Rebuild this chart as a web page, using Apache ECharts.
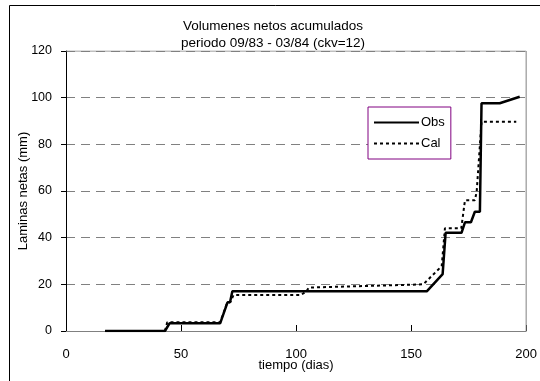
<!DOCTYPE html>
<html>
<head>
<meta charset="utf-8">
<script src="https://cdn.jsdelivr.net/npm/echarts@6/dist/echarts.min.js"></script>
<style>
  html, body { margin: 0; padding: 0; background: #fff; }
  #chart { width: 540px; height: 381px; }
</style>
</head>
<body>
<div id="chart"></div>
<script>
// observed accumulated volume (dias, mm)
const obsDias = [17, 43, 45, 67, 70.2, 71.3, 72.3, 156.8, 163.7, 165, 171.9, 173.4, 176, 177.7, 179.9, 180.6, 188.5, 197.2]
const obsMm = [0, 0, 3.3, 3.3, 12.3, 12.3, 17, 17, 24.4, 42.1, 42.1, 46.6, 46.6, 51.1, 51.1, 97.6, 97.6, 100.4]
// calculated
const calDias = [17, 43, 44, 67, 70, 71.5, 72.8, 102, 104.5, 105.5, 155.3, 163.3, 164.7, 171.8, 173.4, 177.7, 178.5, 180.6, 195.7]
const calMm = [0, 0, 3.7, 3.7, 12, 12.5, 15.4, 15.4, 17, 18.6, 20, 27.8, 44, 44, 56, 56, 59.7, 89.7, 89.7]
const xTicks = [0, 50, 100, 150, 200]
const yTicks = [0, 20, 40, 60, 80, 100, 120]

const font = 'Arial, "Liberation Sans", sans-serif'
const chart = echarts.init(document.getElementById('chart'))

const pairs = (xs, ys) => xs.map((x, i) => [x, ys[i]])

chart.setOption({
    animation: false,
    backgroundColor: '#fff',
    textStyle: { fontFamily: font, color: '#000' },
    title: {
        text: 'Volumenes netos acumulados\nperiodo 09/83 - 03/84 (ckv=12)',
        left: 268,
        textAlign: 'center',
        top: 13,
        textStyle: { fontSize: 13.5, fontWeight: 'normal', color: '#000', lineHeight: 17, fontFamily: font }
    },
    graphic: [
        {
            type: 'rect',
            shape: { x: 9.5, y: 5.5, width: 600, height: 500 },
            style: { fill: null, stroke: '#000', lineWidth: 1 },
            silent: true
        }
    ],
    legend: {
        orient: 'vertical',
        left: 368,
        top: 107,
        width: 84,
        padding: [9, 6, 9, 5],
        itemGap: 8,
        itemWidth: 45,
        itemHeight: 14,
        borderColor: '#800080',
        borderWidth: 1,
        backgroundColor: '#fff',
        itemStyle: { opacity: 0 },
        textStyle: { fontSize: 13, color: '#000', fontFamily: font, padding: [0, 0, 0, -3] },
        data: ['Obs', 'Cal']
    },
    grid: { left: 66, right: 12, top: 51, bottom: 50 },
    xAxis: {
        type: 'value',
        min: xTicks[0],
        max: xTicks[xTicks.length - 1],
        interval: 50,
        name: 'tiempo (dias)',
        nameLocation: 'middle',
        nameGap: 28,
        nameMoveOverlap: false,
        nameTextStyle: { fontSize: 13, color: '#000', fontFamily: font },
        axisLine: { show: true, lineStyle: { color: '#808080', width: 1 } },
        axisTick: { show: true, inside: true, length: 6, lineStyle: { color: '#000' } },
        axisLabel: { fontSize: 13, color: '#000', margin: 17, fontFamily: font },
        splitLine: { show: false }
    },
    yAxis: {
        type: 'value',
        min: yTicks[0],
        max: yTicks[yTicks.length - 1],
        interval: 20,
        name: 'Laminas netas (mm)',
        nameLocation: 'middle',
        nameGap: 36,
        nameMoveOverlap: false,
        nameTextStyle: { fontSize: 13, color: '#000', fontFamily: font },
        axisLine: { show: true, lineStyle: { color: '#000', width: 1 } },
        axisTick: { show: true, length: 5, lineStyle: { color: '#000' } },
        axisLabel: { fontSize: 12.5, color: '#000', margin: 14, fontFamily: font },
        splitLine: { show: true, lineStyle: { color: '#808080', type: [9, 6], width: 1 } }
    },
    series: [
        {
            name: 'Obs',
            type: 'line',
            data: pairs(obsDias, obsMm),
            symbol: 'none',
            lineStyle: { color: '#000', width: 2.5 },
            itemStyle: { color: '#000' },
            z: 3
        },
        {
            name: 'Cal',
            type: 'line',
            data: pairs(calDias, calMm),
            symbol: 'none',
            lineStyle: { color: '#000', width: 2, type: [3, 3] },
            itemStyle: { color: '#000' },
            z: 2
        },
        {
            // gray frame on top / right of plot area
            type: 'line',
            data: [[0, 120], [200, 120], [200, 0]],
            symbol: 'none',
            silent: true,
            lineStyle: { color: '#808080', width: 1 },
            z: 1
        }
    ]
})
</script>
</body>
</html>
